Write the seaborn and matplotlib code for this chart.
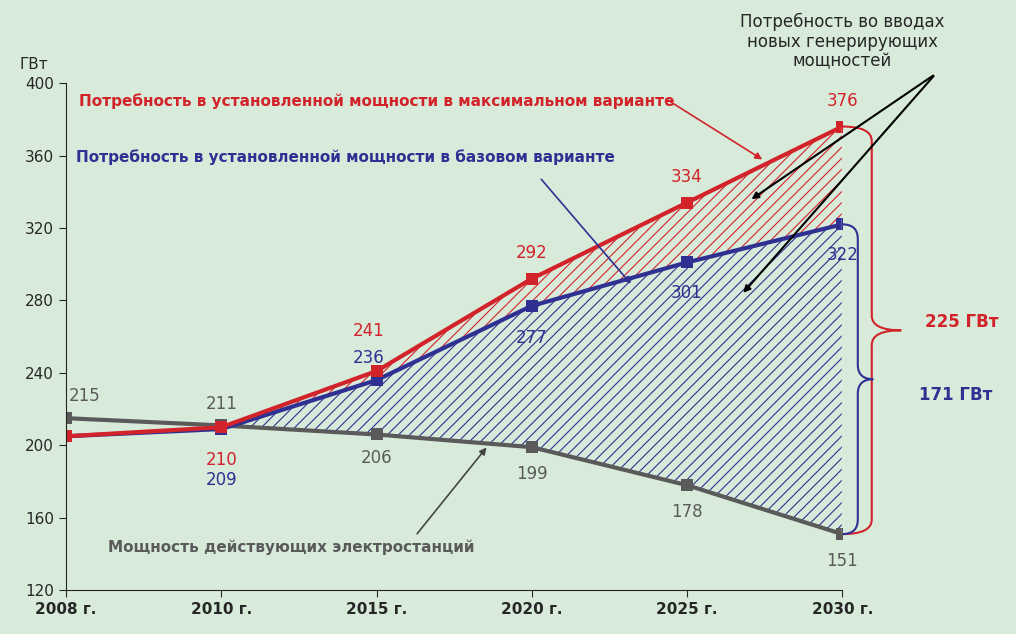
import matplotlib.pyplot as plt
import numpy as np
import seaborn as sns
from matplotlib.path import Path
from matplotlib.patches import PathPatch

sns.set_style("white")
plt.rcParams['font.family'] = 'DejaVu Sans'
plt.rcParams['hatch.linewidth'] = 0.8

years = ["2008 г.", "2010 г.", "2015 г.", "2020 г.", "2025 г.", "2030 г."]
max_var = [205, 210, 241, 292, 334, 376]
base_var = [205, 209, 236, 277, 301, 322]
existing = [215, 211, 206, 199, 178, 151]

RED = "#d2232a"
BLUE = "#2e3192"
GRAY = "#5a5a5a"
BG = "#d8ebdb"

x = np.arange(len(years))
fig = plt.figure(figsize=(10.16, 6.34), dpi=100, facecolor=BG)
ax = fig.add_axes([0.065, 0.069, 0.764, 0.8])
ax.set_facecolor(BG)

ax.fill_between(x[1:], base_var[1:], max_var[1:], facecolor="none", edgecolor=RED,
                hatch="///", linewidth=0)
ax.fill_between(x[1:], existing[1:], base_var[1:], facecolor="none", edgecolor=BLUE,
                hatch="///", linewidth=0)

for series, col in [(existing, GRAY), (base_var, BLUE), (max_var, RED)]:
    sns.lineplot(x=x, y=series, ax=ax, color=col, lw=3, marker="s", markersize=9,
                 markeredgewidth=0)
ax.vlines(x[-1], existing[-1], max_var[-1], color="white", lw=1)

ax.set_xlim(0, 5)
ax.set_ylim(120, 400)
ax.set_yticks(range(120, 401, 40))
ax.set_xticks(x)
ax.set_xticklabels(years, fontweight="bold", fontsize=11)
ax.tick_params(axis="y", labelsize=11, length=5, direction="out", left=True)
ax.tick_params(axis="x", length=5, bottom=True)
for s in ["top", "right"]:
    ax.spines[s].set_visible(False)
for s in ["left", "bottom"]:
    ax.spines[s].set_color("#222222")
ax.text(-0.3, 408, "ГВт", fontsize=11, ha="left")

# value labels
red_off = [None, (0, -18), (-0.05, 22), (0, 14), (0, 14), (0, 14)]
blue_off = [None, (0, -28), (-0.05, 12), (0, -18), (0, -17), (0, -17)]
gray_off = [(0.12, 12), (0, 12), (0, -13), (0, -15), (0, -15), (0, -15)]
for i in range(len(years)):
    if red_off[i]:
        ax.text(i + red_off[i][0], max_var[i] + red_off[i][1], str(max_var[i]),
                color=RED, ha="center", va="center", fontsize=12)
    if blue_off[i]:
        ax.text(i + blue_off[i][0], base_var[i] + blue_off[i][1], str(base_var[i]),
                color=BLUE, ha="center", va="center", fontsize=12)
    ax.text(i + gray_off[i][0], existing[i] + gray_off[i][1], str(existing[i]),
            color=GRAY, ha="center", va="center", fontsize=12)

# annotations
ax.text(2.0, 390, "Потребность в установленной мощности в максимальном варианте",
        color=RED, fontsize=11, fontweight="bold", ha="center", va="center")
ax.annotate("", xy=(4.5, 357), xytext=(3.85, 392),
            arrowprops=dict(arrowstyle="-|>", color=RED, lw=1.2))
ax.text(1.8, 359, "Потребность в установленной мощности в базовом варианте",
        color=BLUE, fontsize=11, fontweight="bold", ha="center", va="center")
ax.annotate("", xy=(3.65, 288), xytext=(3.05, 348),
            arrowprops=dict(arrowstyle="-|>", color=BLUE, lw=1.2))
ax.text(1.45, 144, "Мощность действующих электростанций",
        color=GRAY, fontsize=11, fontweight="bold", ha="center", va="center")
ax.annotate("", xy=(2.72, 200), xytext=(2.25, 150),
            arrowprops=dict(arrowstyle="-|>", color="#444444", lw=1.2))
ax.text(5.0, 423, "Потребность во вводах\nновых генерирующих\nмощностей", fontsize=12,
        ha="center", va="center", linespacing=1.1)
for tgt in [(4.4, 335), (4.35, 283)]:
    ax.annotate("", xy=tgt, xytext=(5.6, 405), annotation_clip=False,
                arrowprops=dict(arrowstyle="-|>", color="black", lw=1.5))

def brace(x0, y0, y1, w, color):
    ym = (y0 + y1) / 2
    verts = [(x0, y1), (x0 + w, y1), (x0 + w, y1 - 8), (x0 + w, ym + 8),
             (x0 + w, ym), (x0 + 2 * w, ym), (x0 + w, ym), (x0 + w, ym - 8),
             (x0 + w, y0 + 8), (x0 + w, y0), (x0, y0)]
    codes = [Path.MOVETO, Path.CURVE3, Path.CURVE3, Path.LINETO,
             Path.CURVE3, Path.CURVE3, Path.CURVE3, Path.CURVE3,
             Path.LINETO, Path.CURVE3, Path.CURVE3]
    ax.add_patch(PathPatch(Path(verts, codes), fill=False, edgecolor=color, lw=1.5,
                           clip_on=False))

brace(5.0, existing[-1], max_var[-1], 0.19, RED)
brace(5.0, existing[-1], base_var[-1], 0.1, BLUE)
ax.text(5.77, 263, "225 ГВт", color=RED, fontsize=12, fontweight="bold",
        ha="center", va="bottom")
ax.text(5.73, 223, "171 ГВт", color=BLUE, fontsize=12, fontweight="bold",
        ha="center", va="bottom")

fig.savefig("out.png", dpi=100, facecolor=BG)
